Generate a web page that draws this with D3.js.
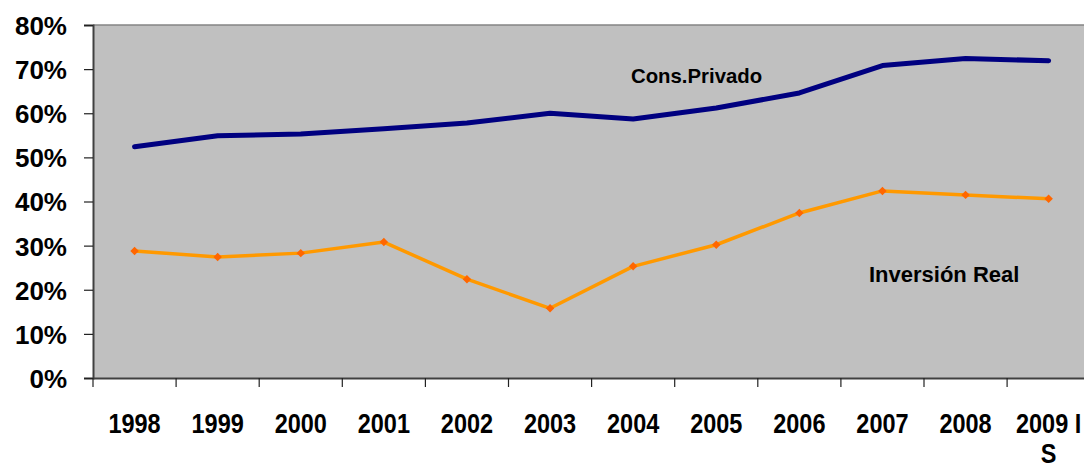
<!DOCTYPE html>
<html><head><meta charset="utf-8">
<script src="https://cdn.jsdelivr.net/npm/d3@7"></script>
<style>body{margin:0;background:#fff}svg{display:block;font-family:"Liberation Sans",Arial,sans-serif;font-weight:bold}</style>
</head><body><svg id="c" width="1084" height="468"></svg>
<script>
const categories = ["1998","1999","2000","2001","2002","2003","2004","2005","2006","2007","2008","2009 I S"];
const consPrivado = [52.4,54.9,55.3,56.5,57.8,60.0,58.7,61.2,64.6,70.8,72.4,71.9];
const inversionReal = [28.8,27.4,28.3,30.8,22.4,15.8,25.3,30.2,37.4,42.4,41.5,40.6];
const yTicks = [0,10,20,30,40,50,60,70,80];

const svg = d3.select("#c");
const L = 93, T = 25, B = 378, R = 93 + 12*83.1;
const x = d3.scaleBand().domain(categories).range([L, R]);
const y = d3.scaleLinear().domain([0,80]).range([B, T]);

svg.append("rect").attr("x",L).attr("y",T).attr("width",R-L).attr("height",B-T).attr("fill","#c0c0c0");
svg.append("line").attr("x1",L).attr("x2",R).attr("y1",T).attr("y2",T).attr("stroke","#858585").attr("stroke-width",1.5);

// y axis
const ya = svg.append("g").attr("transform",`translate(${L},0)`)
  .call(d3.axisLeft(y).tickValues(yTicks).tickFormat(d=>d+"%").tickSize(9).tickPadding(17));
ya.select(".domain").attr("stroke","#404040").attr("stroke-width",2);
ya.selectAll(".tick line").attr("stroke","#222").attr("stroke-width",1.2);
ya.selectAll(".tick text").attr("font-size",26).attr("font-weight","bold").attr("fill","#000")
  .attr("font-family","Liberation Sans, Arial, sans-serif").attr("dy","0.36em");

// x axis
const xa = svg.append("g").attr("transform",`translate(0,${B})`)
  .call(d3.axisBottom(x).tickSize(0).tickFormat(""));
xa.select(".domain").attr("stroke","#404040").attr("stroke-width",2);
const tickPos = d3.range(categories.length+1).map(i => L + i*x.step());
svg.append("g").selectAll("line").data(tickPos).join("line")
  .attr("x1",d=>d).attr("x2",d=>d).attr("y1",B).attr("y2",B+9).attr("stroke","#222").attr("stroke-width",1.2);

const lbl = svg.append("g").selectAll("g").data(categories).join("g")
  .attr("transform",d=>`translate(${x(d)+x.bandwidth()/2},433)`);
lbl.each(function(d){
  const parts = d === "2009 I S" ? ["2009 I","S"] : [d];
  parts.forEach((p,i)=>{
    d3.select(this).append("text").attr("text-anchor","middle").attr("y",i*30)
      .attr("transform","scale(0.87,1)").attr("font-size",27).attr("fill","#000").text(p);
  });
});

const cx = d => x(d)+x.bandwidth()/2;
const line = d3.line().x((d,i)=>cx(categories[i])).y(d=>y(d));

svg.append("path").datum(consPrivado).attr("d",line).attr("fill","none")
  .attr("stroke","#000080").attr("stroke-width",5).attr("stroke-linecap","round").attr("stroke-linejoin","round");
svg.append("path").datum(inversionReal).attr("d",line).attr("fill","none")
  .attr("stroke","#ff9900").attr("stroke-width",3.5).attr("stroke-linejoin","round");
svg.append("g").selectAll("path").data(inversionReal).join("path")
  .attr("d",d3.symbol(d3.symbolSquare,36))
  .attr("transform",(d,i)=>`translate(${cx(categories[i])},${y(d)}) rotate(45)`)
  .attr("fill","#ff6600");

svg.append("text").attr("x",631).attr("y",83).attr("font-size",21).attr("fill","#000")
  .attr("transform","translate(631,0) scale(0.97,1) translate(-631,0)").text("Cons.Privado");
svg.append("text").attr("x",869).attr("y",282).attr("font-size",22).attr("fill","#000").text("Inversión Real");
</script></body></html>
